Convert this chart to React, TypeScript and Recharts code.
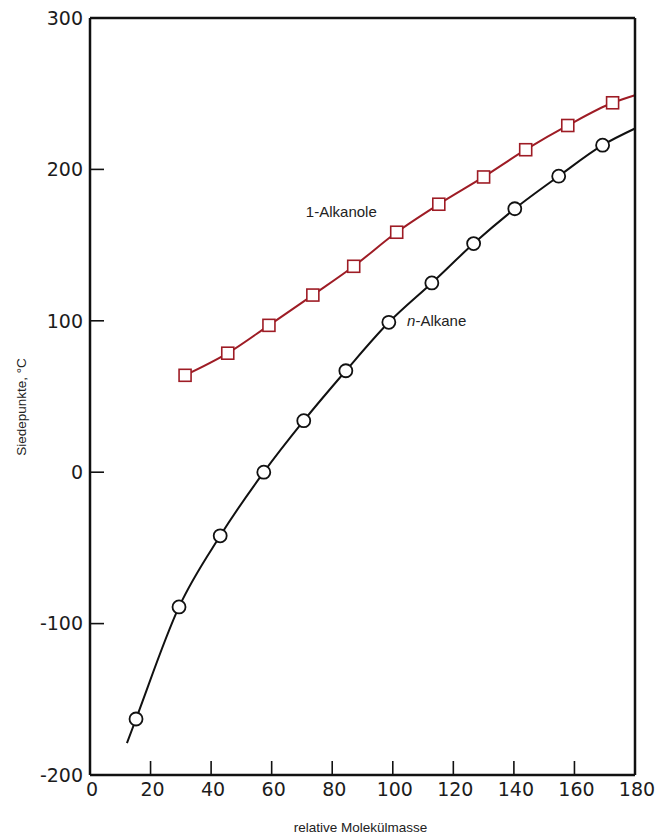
import { Label, Line, LineChart, ReferenceDot, XAxis, YAxis } from "recharts";

// n-Alkane (circles)
const alkaneMass = [15.2, 29.4, 43, 57.4, 70.6, 84.5, 98.7, 112.9, 126.7, 140.3, 154.8, 169.3];
const alkaneBp = [-163, -89, -42, 0, 34, 67, 99, 125, 151, 174, 195.5, 216];
// where the drawn curve starts and ends beyond the measured points
const alkaneCurveStart = [12.2, -179];
const alkaneCurveEnd = [180, 227];

// 1-Alkanole (squares)
const alkanolMass = [31.4, 45.5, 59.1, 73.6, 87.1, 101.3, 115.2, 130, 143.9, 157.8, 172.6];
const alkanolBp = [64, 78.6, 97, 117, 136, 158.5, 177, 195, 213, 229, 244];
const alkanolCurveEnd = [180, 249];

const xTicks = [0, 20, 40, 60, 80, 100, 120, 140, 160, 180];
const yTicks = [-200, -100, 0, 100, 200, 300];

const alkaneLine = [
    { mass: alkaneCurveStart[0], bp: alkaneCurveStart[1], mark: false },
    ...alkaneMass.map((m, i) => ({ mass: m, bp: alkaneBp[i], mark: true })),
    { mass: alkaneCurveEnd[0], bp: alkaneCurveEnd[1], mark: false },
];

const alkanolLine = [
    ...alkanolMass.map((m, i) => ({ mass: m, bp: alkanolBp[i], mark: true })),
    { mass: alkanolCurveEnd[0], bp: alkanolCurveEnd[1], mark: false },
];

const INK = '#111';
const RED = '#9e1c25';
const TICK_FONT = '"DejaVu Sans", sans-serif';
const TEXT_FONT = '"Liberation Sans", Arial, sans-serif';

function BottomTick(props: any) {
    const { x, y, payload } = props;
    return (
        <g>
            <line x1={x} y1={y} x2={x} y2={y - 14} stroke={INK} strokeWidth={1.6} />
            <text x={x + 2} y={y + 21} textAnchor="middle" fontFamily={TICK_FONT} fontSize={19} fill="#1c1c1c">
                {payload.value}
            </text>
        </g>
    );
}

function TopTick(props: any) {
    const { x, y } = props;
    return <line x1={x} y1={y} x2={x} y2={y + 14} stroke={INK} strokeWidth={1.6} />;
}

function LeftTick(props: any) {
    const { x, y, payload } = props;
    return (
        <g>
            <line x1={x} y1={y} x2={x + 14} y2={y} stroke={INK} strokeWidth={1.6} />
            <text x={x - 7} y={y} dy="0.36em" textAnchor="end" fontFamily={TICK_FONT} fontSize={19} fill="#1c1c1c">
                {payload.value}
            </text>
        </g>
    );
}

function RightTick(props: any) {
    const { x, y } = props;
    return <line x1={x} y1={y} x2={x - 14} y2={y} stroke={INK} strokeWidth={1.6} />;
}

function CircleDot(props: any) {
    const { cx, cy, payload, index } = props;
    if (!payload.mark) return <g key={`c${index}`} />;
    return <circle key={`c${index}`} cx={cx} cy={cy} r={6.5} fill="#fff" stroke={INK} strokeWidth={1.8} />;
}

function SquareDot(props: any) {
    const { cx, cy, payload, index } = props;
    if (!payload.mark) return <g key={`s${index}`} />;
    return <rect key={`s${index}`} x={cx - 6} y={cy - 6} width={12} height={12} fill="#fff" stroke={RED} strokeWidth={1.6} />;
}

export default function App() {
    return (
        <div style={{ position: 'absolute', left: 0, top: 0, background: '#fff' }}>
            <LineChart width={672} height={836} margin={{ top: 0, right: 0, bottom: 0, left: 0 }}>
                <XAxis
                    xAxisId="bottom"
                    orientation="bottom"
                    type="number"
                    dataKey="mass"
                    domain={[0, 180]}
                    ticks={xTicks}
                    interval={0}
                    height={61}
                    tickSize={0}
                    tickMargin={0}
                    tickLine={false}
                    tick={<BottomTick />}
                    axisLine={{ stroke: INK, strokeWidth: 2.5 }}
                >
                    <Label
                        content={(p: any) => (
                            <text
                                x={p.viewBox.x + p.viewBox.width / 2 - 2}
                                y={p.viewBox.y + 57}
                                textAnchor="middle"
                                fontFamily={TEXT_FONT}
                                fontSize={13.5}
                                fill="#222"
                            >
                                relative Molekülmasse
                            </text>
                        )}
                    />
                </XAxis>
                <XAxis
                    xAxisId="top"
                    orientation="top"
                    type="number"
                    domain={[0, 180]}
                    ticks={xTicks}
                    interval={0}
                    height={18}
                    tickSize={0}
                    tickMargin={0}
                    tickLine={false}
                    tick={<TopTick />}
                    axisLine={{ stroke: INK, strokeWidth: 2.5 }}
                />
                <YAxis
                    yAxisId="left"
                    orientation="left"
                    type="number"
                    domain={[-200, 300]}
                    ticks={yTicks}
                    interval={0}
                    width={90}
                    tickSize={0}
                    tickMargin={0}
                    tickLine={false}
                    tick={<LeftTick />}
                    axisLine={{ stroke: INK, strokeWidth: 2.5 }}
                >
                    <Label
                        content={() => (
                            <text
                                x={26}
                                y={407}
                                transform="rotate(-90, 26, 407)"
                                textAnchor="middle"
                                fontFamily={TEXT_FONT}
                                fontSize={13.5}
                                fill="#222"
                            >
                                Siedepunkte, °C
                            </text>
                        )}
                    />
                </YAxis>
                <YAxis
                    yAxisId="right"
                    orientation="right"
                    type="number"
                    domain={[-200, 300]}
                    ticks={yTicks}
                    interval={0}
                    width={37}
                    tickSize={0}
                    tickMargin={0}
                    tickLine={false}
                    tick={<RightTick />}
                    axisLine={{ stroke: INK, strokeWidth: 2.5 }}
                />
                <Line
                    xAxisId="bottom"
                    yAxisId="left"
                    data={alkanolLine}
                    dataKey="bp"
                    type="monotone"
                    stroke={RED}
                    strokeWidth={2}
                    dot={SquareDot}
                    activeDot={false}
                    isAnimationActive={false}
                />
                <Line
                    xAxisId="bottom"
                    yAxisId="left"
                    data={alkaneLine}
                    dataKey="bp"
                    type="monotone"
                    stroke={INK}
                    strokeWidth={2}
                    dot={CircleDot}
                    activeDot={false}
                    isAnimationActive={false}
                />
                <ReferenceDot
                    xAxisId="bottom"
                    yAxisId="left"
                    x={83}
                    y={168.5}
                    r={1}
                    fill="none"
                    stroke="none"
                    label={(p: any) => (
                        <text
                            x={p.viewBox.x + p.viewBox.width / 2}
                            y={p.viewBox.y + p.viewBox.height / 2}
                            textAnchor="middle"
                            fontFamily={TEXT_FONT}
                            fontSize={15}
                            fill="#222"
                        >
                            1-Alkanole
                        </text>
                    )}
                />
                <ReferenceDot
                    xAxisId="bottom"
                    yAxisId="left"
                    x={114.5}
                    y={96.4}
                    r={1}
                    fill="none"
                    stroke="none"
                    label={(p: any) => (
                        <text
                            x={p.viewBox.x + p.viewBox.width / 2}
                            y={p.viewBox.y + p.viewBox.height / 2}
                            textAnchor="middle"
                            fontFamily={TEXT_FONT}
                            fontSize={15}
                            fill="#222"
                        >
                            <tspan fontStyle="italic">n</tspan>-Alkane
                        </text>
                    )}
                />
            </LineChart>
        </div>
    );
}
